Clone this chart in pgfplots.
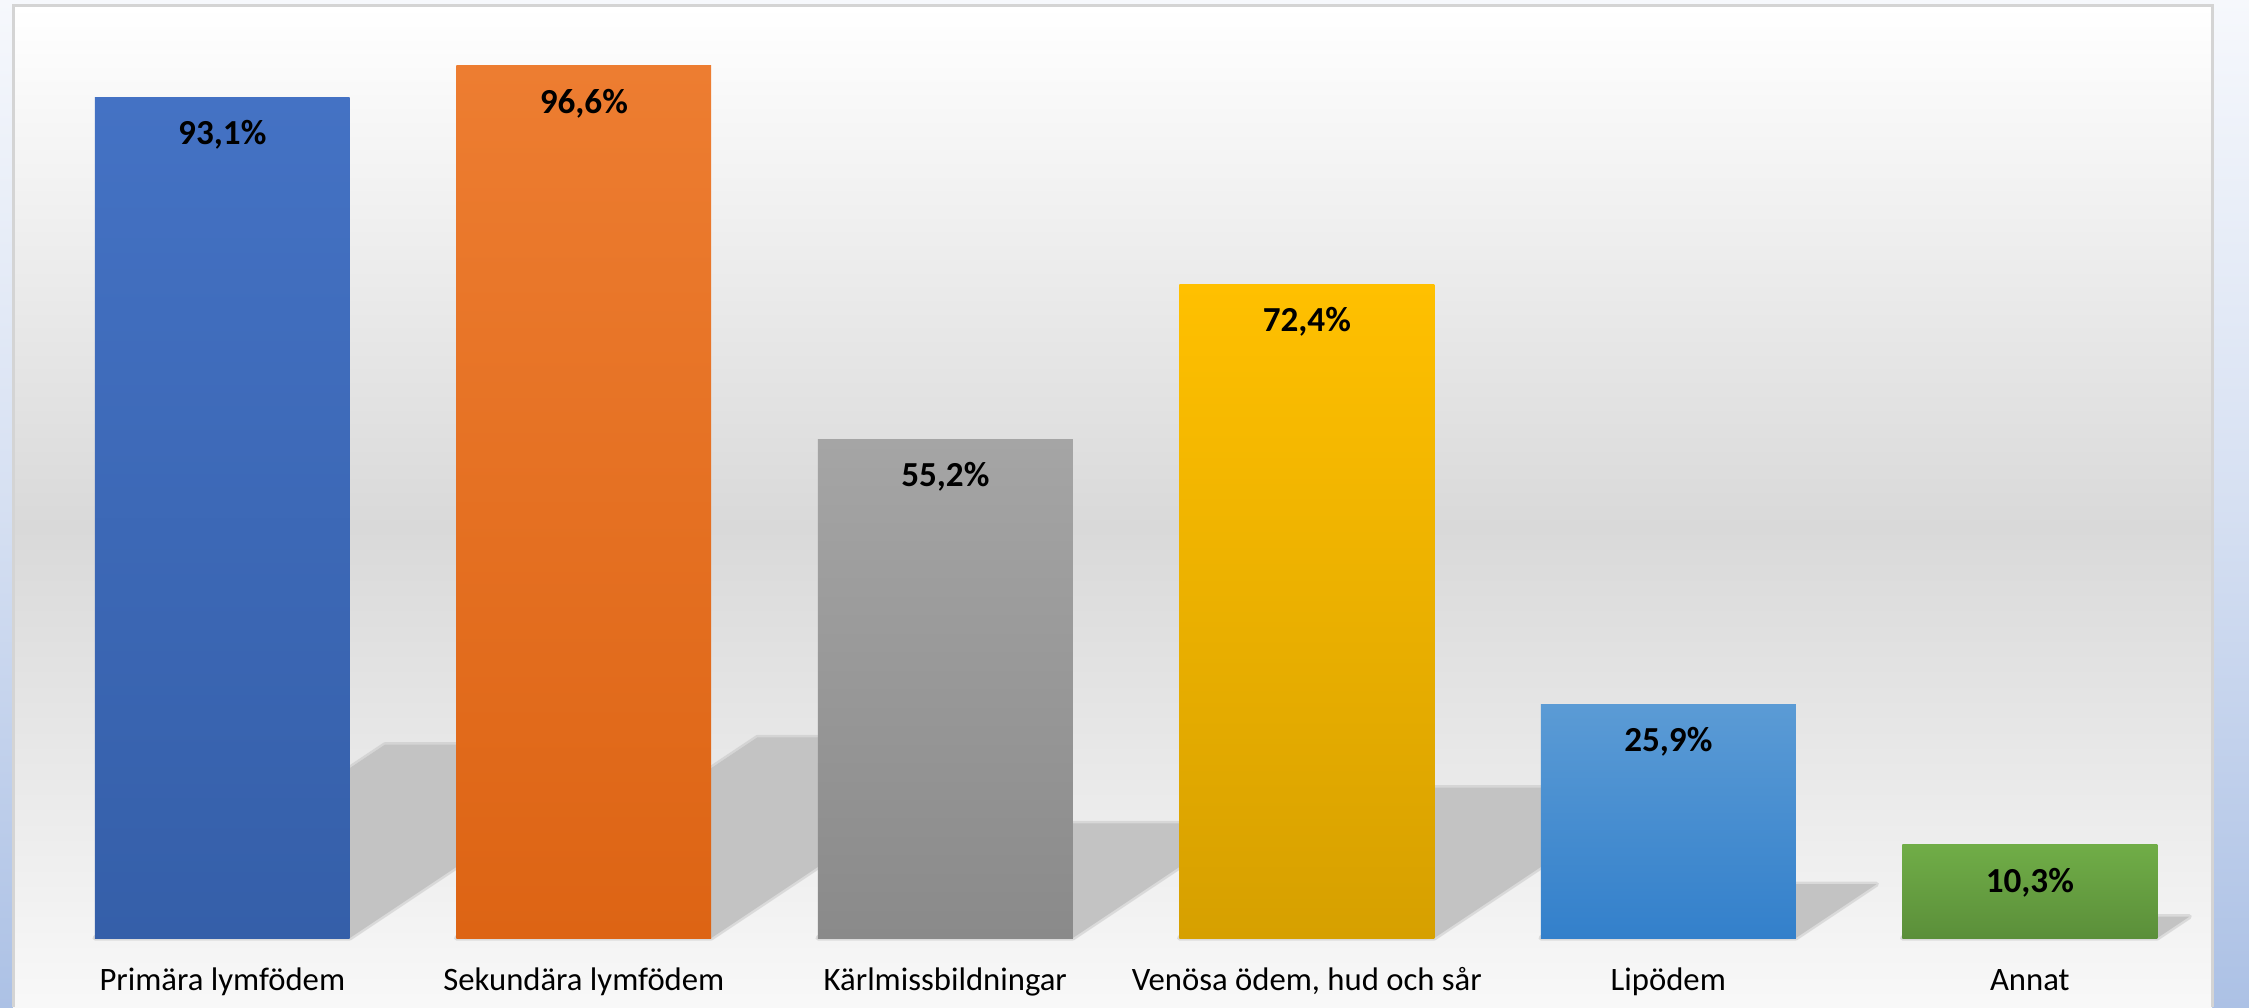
\documentclass[border=0pt]{standalone}
\usepackage{fontspec}
\setmainfont{Carlito}
\usepackage{pgfplots}
\pgfplotsset{compat=1.18}

\definecolor{pageTop}{HTML}{F6F8FC}
\definecolor{pageMid}{HTML}{D6E0F2}
\definecolor{pageBot}{HTML}{ACC1E5}
\definecolor{bgmid}{HTML}{D9D9D9}
\definecolor{bgbot}{HTML}{FBFBFB}
\definecolor{framegray}{HTML}{D4D4D4}
\definecolor{shadowgray}{HTML}{C3C3C3}
\definecolor{c1top}{HTML}{4472C4}\definecolor{c1bot}{HTML}{355FA9}
\definecolor{c2top}{HTML}{ED7D31}\definecolor{c2bot}{HTML}{DD6414}
\definecolor{c3top}{HTML}{A5A5A5}\definecolor{c3bot}{HTML}{8A8A8A}
\definecolor{c4top}{HTML}{FFC000}\definecolor{c4bot}{HTML}{D6A000}
\definecolor{c5top}{HTML}{5B9BD5}\definecolor{c5bot}{HTML}{3380CB}
\definecolor{c6top}{HTML}{70AD47}\definecolor{c6bot}{HTML}{5B8F3A}

% perspective shadow behind a bar: #1 = x position, #2 = value
\newcommand{\barshadow}[2]{%
  \filldraw[shadowgray, line width=0.05cm, draw opacity=0.5, line join=round]
    (axis cs:{#1-0.3525},0) -- (axis cs:{#1+0.3525},0)
    -- (axis cs:{#1+0.3525+0.00862*#2},{0.23*#2})
    -- (axis cs:{#1-0.3525+0.00862*#2},{0.23*#2}) -- cycle;}

\begin{document}
\begin{tikzpicture}
\path[use as bounding box] (0,0) rectangle (22.49,10.07);
\shade[top color=pageTop, bottom color=pageBot, middle color=pageMid] (0,0) rectangle (22.49,10.07);
% chart area fill
\shade[top color=white, bottom color=bgbot, middle color=bgmid] (0.13,-0.4) rectangle (22.12,10.01);
\begin{axis}[
    at={(0.13cm,0cm)}, anchor=south west,
    scale only axis, width=21.99cm, height=10.01cm,
    xmin=-0.579, xmax=5.504, ymin=-7.64, ymax=103.2,
    axis line style={draw=none},
    ytick=\empty,
    xtick={0,1,2,3,4,5},
    xticklabels={Primära lymfödem, Sekundära lymfödem, Kärlmissbildningar, {Venösa ödem, hud och sår}, Lipödem, Annat},
    major tick length=0pt,
    xticklabel style={font=\fontsize{9.3}{11}\selectfont, anchor=base, yshift=0.17cm, text=black},
    ybar, bar width=0.705, bar shift=0pt,
    nodes near coords={\pgfmathprintnumber[fixed, precision=1, fixed zerofill, use comma, assume math mode=true]{\pgfplotspointmeta}\%},
    every node near coord/.append style={font=\fontsize{10}{12}\selectfont\bfseries, anchor=base, yshift=-0.475cm, inner sep=0pt, text=black},
]
  \barshadow{0}{93.1}
  \barshadow{1}{96.6}
  \barshadow{2}{55.2}
  \barshadow{3}{72.4}
  \barshadow{4}{25.9}
  \barshadow{5}{10.3}
  \addplot[draw=none, top color=c1top, bottom color=c1bot] coordinates {(0,93.1)};
  \addplot[draw=none, top color=c2top, bottom color=c2bot] coordinates {(1,96.6)};
  \addplot[draw=none, top color=c3top, bottom color=c3bot] coordinates {(2,55.2)};
  \addplot[draw=none, top color=c4top, bottom color=c4bot] coordinates {(3,72.4)};
  \addplot[draw=none, top color=c5top, bottom color=c5bot] coordinates {(4,25.9)};
  \addplot[draw=none, top color=c6top, bottom color=c6bot] coordinates {(5,10.3)};
\end{axis}
\draw[framegray, line width=0.03cm] (0.13,0) -- (0.13,10.01) -- (22.12,10.01) -- (22.12,0);
\end{tikzpicture}
\end{document}
